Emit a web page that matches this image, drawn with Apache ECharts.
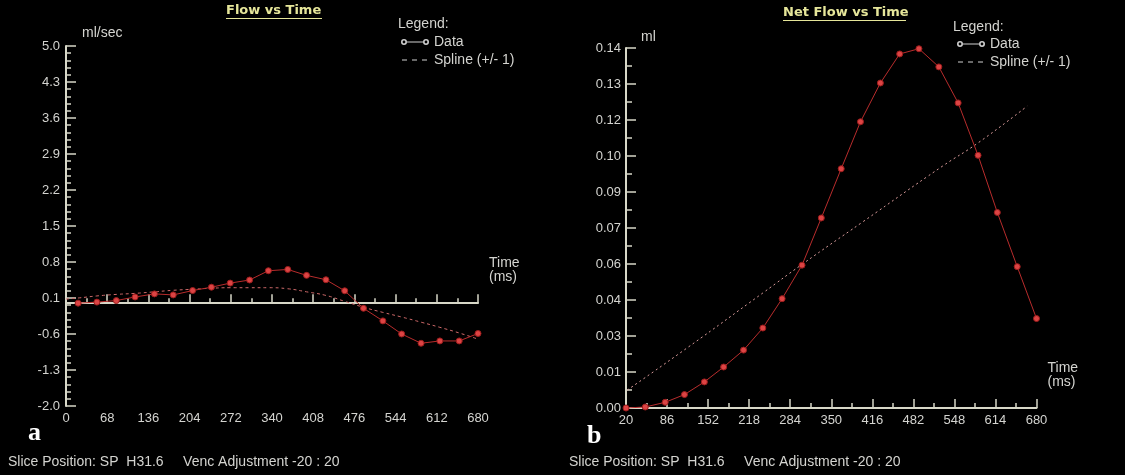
<!DOCTYPE html>
<html><head><meta charset="utf-8">
<script src="https://cdn.jsdelivr.net/npm/echarts@6/dist/echarts.min.js"></script>
<style>html,body{margin:0;padding:0;background:#000;} #c{width:1125px;height:475px;}</style>
</head><body><div id="c"></div>
<script>
// ---- Data ----
const flowTimes  = [20,51,83,114,146,177,209,240,271,303,334,366,397,429,460,491,523,554,586,617,649,680];
const flowValues = [0.0,0.02,0.05,0.12,0.18,0.16,0.245,0.31,0.39,0.45,0.63,0.655,0.54,0.455,0.24,-0.1,-0.345,-0.6,-0.78,-0.735,-0.735,-0.59];
const flowSplineTimes  = [0,20,51,83,114,146,177,209,240,271,303,334,366,397,429,460,491,523,554,586,617,649,680];
const flowSplineValues = [0.08,0.10,0.14,0.17,0.19,0.22,0.25,0.27,0.29,0.30,0.30,0.30,0.28,0.22,0.15,0.035,-0.08,-0.18,-0.27,-0.37,-0.47,-0.58,-0.70];

const netTimes  = [20,51,83,114,146,177,209,240,271,303,334,366,397,429,460,491,523,554,586,617,649,680];
const netValues = [0,0.0004,0.0023,0.0054,0.0105,0.0165,0.0233,0.0322,0.044,0.0575,0.0765,0.0963,0.1152,0.1308,0.1425,0.1446,0.1373,0.1228,0.1017,0.0787,0.0569,0.036];
const netSplineTimes  = [22,120,240,303,400,528,586,665];
const netSplineValues = [0.0072,0.0245,0.0463,0.0578,0.0748,0.0972,0.1067,0.1215];

const flowXLabels = ['0','68','136','204','272','340','408','476','544','612','680'];
const flowYLabels = ['-2.0','-1.3','-0.6','0.1','0.8','1.5','2.2','2.9','3.6','4.3','5.0'];
const netXLabels  = ['20','86','152','218','284','350','416','482','548','614','680'];
const netYLabels  = ['0.00','0.01','0.03','0.04','0.06','0.07','0.09','0.10','0.12','0.13','0.14'];

const flowX = {min:0, max:680, step:68};
const flowY = {min:-2.0, max:5.0, step:0.7};
const netX  = {min:20, max:680, step:66};
const netY  = {min:0, max:0.1449, step:0.01449};

// ---- Styling ----
const AX = '#d8d8c8';
const TXT = '#d4d4d0';
const FONT = 'Liberation Sans, Arial, sans-serif';
const pairs = (ts, vs) => ts.map((t, i) => [t, vs[i]]);
const fmt = (labels, r) => (v) => labels[Math.round((v - r.min) / r.step)];

function axis(r, labels, isX, extra) {
  return Object.assign({
    type: 'value', min: r.min, max: r.max, interval: r.step,
    axisLine: {show: true, onZero: isX, lineStyle: {color: AX, width: 2}},
    axisTick: {show: true, inside: true, length: 9, lineStyle: {color: AX, width: 1.5}},
    minorTick: {show: true, splitNumber: 2, length: 5, lineStyle: {color: AX, width: 1.5}},
    axisLabel: {color: TXT, fontFamily: FONT, fontSize: 13, margin: 6, formatter: fmt(labels, r)},
    splitLine: {show: false}, minorSplitLine: {show: false}
  }, extra);
}

const dataIcon = 'path://M0,3A3,3 0 1,1 6,3A3,3 0 1,1 0,3Z M1.6,3A1.4,1.4 0 1,0 4.4,3A1.4,1.4 0 1,0 1.6,3Z M6,2.5L22,2.5L22,3.5L6,3.5Z M22,3A3,3 0 1,1 28,3A3,3 0 1,1 22,3Z M23.6,3A1.4,1.4 0 1,0 26.4,3A1.4,1.4 0 1,0 23.6,3Z';
const splineIcon = 'path://M0,0L0.01,0L0.01,0.01Z M1,2.5L6,2.5L6,3.5L1,3.5Z M11,2.5L16,2.5L16,3.5L11,3.5Z M21,2.5L26,2.5L26,3.5L21,3.5Z M28,6L27.99,6L27.99,5.99Z';

function legend(left, top) {
  return {
    left: left, top: top, orient: 'vertical', itemWidth: 28, itemHeight: 6, itemGap: 4,
    selectedMode: false, padding: 0,
    textStyle: {color: TXT, fontFamily: FONT, fontSize: 14, lineHeight: 14},
    data: [
      {name: 'Data', icon: dataIcon, itemStyle: {color: '#d0d0d0', borderWidth: 0}},
      {name: 'Spline (+/- 1)', icon: splineIcon, itemStyle: {color: '#d0d0d0', borderWidth: 0}}
    ]
  };
}

function dataSeries(xi, ts, vs) {
  return {type: 'line', name: 'Data', xAxisIndex: xi, yAxisIndex: xi, data: pairs(ts, vs),
    symbol: 'circle', symbolSize: 6, showAllSymbol: true, z: 4,
    lineStyle: {color: '#b82c2c', width: 1},
    itemStyle: {color: '#dc4444', borderColor: '#9c1c1c', borderWidth: 1}};
}
function splineSeries(xi, ts, vs, dash, color) {
  return {type: 'line', name: 'Spline (+/- 1)', xAxisIndex: xi, yAxisIndex: xi, data: pairs(ts, vs),
    smooth: true, symbol: 'none', z: 3,
    itemStyle: {color: color},
    lineStyle: {color: color, width: 1, type: dash}};
}

const chart = echarts.init(document.getElementById('c'));
chart.setOption({
  backgroundColor: '#000',
  animation: false,
  title: [
    {text: 'Flow vs Time', left: 226, top: 4, padding: 0,
     textStyle: {color: '#e6e69a', fontFamily: 'DejaVu Sans', fontWeight: 'bold', fontSize: 13}},
    {text: 'Net Flow vs Time', left: 783, top: 6, padding: 0,
     textStyle: {color: '#e6e69a', fontFamily: 'DejaVu Sans', fontWeight: 'bold', fontSize: 13}}
  ],
  legend: [legend(401, 35), legend(957, 37)],
  grid: [
    {left: 66, top: 46, width: 412, height: 360},
    {left: 626, top: 48, width: 410.5, height: 360}
  ],
  xAxis: [
    axis(flowX, flowXLabels, true, {gridIndex: 0, name: 'Time\n(ms)', nameLocation: 'end', nameGap: 11,
      nameTextStyle: {color: TXT, fontFamily: FONT, fontSize: 14, lineHeight: 14, align: 'left', verticalAlign: 'bottom', padding: [0, 0, 19, 0]}}),
    axis(netX, netXLabels, true, {gridIndex: 1, name: 'Time\n(ms)', nameLocation: 'end', nameGap: 11,
      nameTextStyle: {color: TXT, fontFamily: FONT, fontSize: 14, lineHeight: 14, align: 'left', verticalAlign: 'bottom', padding: [0, 0, 19, 0]}})
  ],
  yAxis: [
    axis(flowY, flowYLabels, false, {gridIndex: 0, axisTick: {show: true, inside: true, length: 10, lineStyle: {color: AX, width: 1.5}},
      minorTick: {show: true, splitNumber: 5, length: 5, lineStyle: {color: AX, width: 1.5}},
      name: 'ml/sec', nameLocation: 'end', nameGap: 13,
      nameTextStyle: {color: TXT, fontFamily: FONT, fontSize: 14, align: 'left', verticalAlign: 'middle', padding: [0, 0, 0, 16]}}),
    axis(netY, netYLabels, false, {gridIndex: 1, axisTick: {show: true, inside: true, length: 10, lineStyle: {color: AX, width: 1.5}},
      minorTick: {show: true, splitNumber: 2, length: 6, lineStyle: {color: AX, width: 1.5}},
      axisLabel: {color: TXT, fontFamily: FONT, fontSize: 13, margin: 5, formatter: fmt(netYLabels, netY)},
      name: 'ml', nameLocation: 'end', nameGap: 11,
      nameTextStyle: {color: TXT, fontFamily: FONT, fontSize: 14, align: 'left', verticalAlign: 'middle', padding: [0, 0, 0, 15]}})
  ],
  series: [
    splineSeries(0, flowSplineTimes, flowSplineValues, [3, 3], '#d06a6a'),
    dataSeries(0, flowTimes, flowValues),
    splineSeries(1, netSplineTimes, netSplineValues, [2, 3], '#d89a9a'),
    dataSeries(1, netTimes, netValues)
  ],
  graphic: [
    {type: 'line', shape: {x1: 226, y1: 18.5, x2: 322, y2: 18.5}, style: {stroke: '#e6e69a', lineWidth: 1}},
    {type: 'line', shape: {x1: 783, y1: 20.5, x2: 906, y2: 20.5}, style: {stroke: '#e6e69a', lineWidth: 1}},
    {type: 'text', x: 398, y: 24, style: {text: 'Legend:', fill: TXT, font: '14px ' + FONT, align: 'left', verticalAlign: 'middle'}},
    {type: 'text', x: 953, y: 27, style: {text: 'Legend:', fill: TXT, font: '14px ' + FONT, align: 'left', verticalAlign: 'middle'}},
    {type: 'text', x: 28, y: 433, style: {text: 'a', fill: '#ffffff', font: 'bold 26px Liberation Serif, serif', align: 'left', verticalAlign: 'middle'}},
    {type: 'text', x: 587, y: 436, style: {text: 'b', fill: '#ffffff', font: 'bold 26px Liberation Serif, serif', align: 'left', verticalAlign: 'middle'}},
    {type: 'text', x: 8, y: 462, style: {text: 'Slice Position: SP  H31.6     Venc Adjustment -20 : 20', fill: TXT, font: '14px ' + FONT, align: 'left', verticalAlign: 'middle'}},
    {type: 'text', x: 569, y: 462, style: {text: 'Slice Position: SP  H31.6     Venc Adjustment -20 : 20', fill: TXT, font: '14px ' + FONT, align: 'left', verticalAlign: 'middle'}}
  ]
});
</script></body></html>
